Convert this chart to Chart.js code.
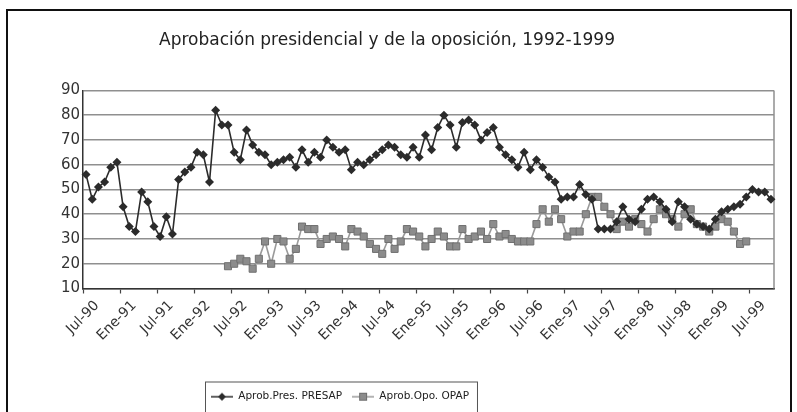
<!DOCTYPE html>
<html>
<head>
<meta charset="utf-8">
<script src="https://cdn.jsdelivr.net/npm/chart.js@4.4.1/dist/chart.umd.min.js"></script>
<style>
  html, body { margin: 0; padding: 0; background: #fff; }
  #wrap { position: relative; width: 797px; height: 412px; overflow: hidden; }
  #frame { position: absolute; left: 6px; top: 9px; width: 786px; height: 430px; border: 2px solid #111; box-sizing: border-box; }
  canvas { position: absolute; left: 0; top: 0; }
</style>
</head>
<body>
<div id="wrap">
  <div id="frame"></div>
  <canvas id="chart" width="797" height="412"></canvas>
</div>
<script>
// ---- datos ----
const MESES = ["Ene", "Feb", "Mar", "Abr", "May", "Jun", "Jul", "Ago", "Sep", "Oct", "Nov", "Dic"];
const INICIO = { anio: 1990, mes: 6 };   // Jul-90
const N_MESES = 112;                      // Jul-90 .. Oct-99

// Aprob.Pres. PRESAP (mensual)
const presap = [
  56, 46, 51, 53, 59, 61,                          // 1990 jul-dic
  43, 35, 33, 49, 45, 35, 31, 39, 32, 54, 57, 59,  // 1991
  65, 64, 53, 82, 76, 76, 65, 62, 74, 68, 65, 64,  // 1992
  60, 61, 62, 63, 59, 66, 61, 65, 63, 70, 67, 65,  // 1993
  66, 58, 61, 60, 62, 64, 66, 68, 67, 64, 63, 67,  // 1994
  63, 72, 66, 75, 80, 76, 67, 77, 78, 76, 70, 73,  // 1995
  75, 67, 64, 62, 59, 65, 58, 62, 59, 55, 53, 46,  // 1996
  47, 47, 52, 48, 46, 34, 34, 34, 37, 43, 38, 37,  // 1997
  42, 46, 47, 45, 42, 37, 45, 43, 38, 36, 35, 34,  // 1998
  38, 41, 42, 43, 44, 47, 50, 49, 49, 46           // 1999 ene-oct
];

// Aprob.Opo. OPAP (empieza jun-92, termina jun-99)
const opap = [
  null, null, null, null, null, null,
  null, null, null, null, null, null, null, null, null, null, null, null,
  null, null, null, null, null, 19, 20, 22, 21, 18, 22, 29,
  20, 30, 29, 22, 26, 35, 34, 34, 28, 30, 31, 30,
  27, 34, 33, 31, 28, 26, 24, 30, 26, 29, 34, 33,
  31, 27, 30, 33, 31, 27, 27, 34, 30, 31, 33, 30,
  36, 31, 32, 30, 29, 29, 29, 36, 42, 37, 42, 38,
  31, 33, 33, 40, 47, 47, 43, 40, 34, 37, 35, 38,
  36, 33, 38, 42, 40, 38, 35, 40, 42, 36, 35, 33,
  35, 38, 37, 33, 28, 29, null, null, null, null
];

const labels = [];
for (let i = 0; i < N_MESES; i++) {
  const m = (INICIO.mes + i) % 12;
  const a = INICIO.anio + Math.floor((INICIO.mes + i) / 12);
  labels.push(MESES[m] + "-" + String(a).slice(2));
}

// ---- estilos ----
const FONT = "'DejaVu Sans', Verdana, sans-serif";
const C_PRES = "#2b2b2b";
const C_OPO = "#8c8c8c";
const C_OPO_LINE = "#9a9a9a";
const LEG_LEFT = 205;

// marcador de leyenda: línea con símbolo al centro
function claveLeyenda(tipo) {
  const c = document.createElement("canvas");
  c.width = 22; c.height = 12;
  const g = c.getContext("2d");
  g.strokeStyle = tipo === "diamante" ? C_PRES : C_OPO_LINE;
  g.lineWidth = 1.5;
  g.beginPath(); g.moveTo(0, 6); g.lineTo(22, 6); g.stroke();
  if (tipo === "diamante") {
    g.fillStyle = C_PRES;
    g.beginPath(); g.moveTo(11, 2); g.lineTo(15, 6); g.lineTo(11, 10); g.lineTo(7, 6); g.closePath(); g.fill();
  } else {
    g.fillStyle = C_OPO; g.strokeStyle = "#6e6e6e"; g.lineWidth = 1;
    g.fillRect(7.5, 2.5, 7, 7); g.strokeRect(7.5, 2.5, 7, 7);
  }
  return c;
}

const marcoPlot = {
  id: "marcoPlot",
  beforeDatasetsDraw(chart) {
    const { ctx, chartArea: a } = chart;
    ctx.save();
    ctx.strokeStyle = "#8f8f8f";
    ctx.lineWidth = 1.5;
    ctx.beginPath(); ctx.moveTo(a.right, a.top); ctx.lineTo(a.right, a.bottom); ctx.stroke();
    ctx.restore();
  }
};

// leyenda desplazada a la izquierda, con recuadro
const cajaLeyenda = {
  id: "cajaLeyenda",
  beforeDraw(chart) {
    const lg = chart.legend;
    lg.left = LEG_LEFT - 4; lg.right = 797; lg.width = 797 - lg.left;
  },
  afterDraw(chart) {
    const { ctx } = chart;
    const lg = chart.legend;
    const ancho = (lg.lineWidths ? lg.lineWidths[0] : 230) + 4;
    ctx.save();
    ctx.strokeStyle = "#555";
    ctx.lineWidth = 1;
    ctx.strokeRect(LEG_LEFT + 0.5, lg.top + 0.5, ancho, 40);
    ctx.restore();
  }
};

new Chart(document.getElementById("chart"), {
  type: "line",
  data: {
    labels: labels,
    datasets: [
      {
        label: "Aprob.Pres. PRESAP",
        data: presap,
        borderColor: C_PRES,
        backgroundColor: C_PRES,
        borderWidth: 1.6,
        pointStyle: "rectRot",
        pointRadius: 4.5,
        pointBorderWidth: 0,
        tension: 0
      },
      {
        label: "Aprob.Opo. OPAP",
        data: opap,
        borderColor: C_OPO_LINE,
        backgroundColor: C_OPO,
        pointBorderColor: "#707070",
        borderWidth: 1.6,
        pointStyle: "rect",
        pointRadius: 5,
        pointBorderWidth: 1,
        spanGaps: false,
        tension: 0
      }
    ]
  },
  options: {
    responsive: false,
    animation: false,
    layout: { padding: { left: 0, right: 23, top: 0, bottom: 0 } },
    plugins: {
      title: {
        display: true,
        text: "Aprobación presidencial y de la oposición, 1992-1999",
        color: "#222",
        font: { family: FONT, size: 17, weight: "normal" },
        padding: { top: 30, bottom: 40 }
      },
      legend: {
        position: "bottom",
        align: "start",
        labels: {
          color: "#222",
          font: { family: FONT, size: 10.5 },
          usePointStyle: true,
          pointStyleWidth: 22,
          boxHeight: 12,
          padding: 10,
          generateLabels: (chart) => [
            { text: "Aprob.Pres. PRESAP", pointStyle: claveLeyenda("diamante"), fontColor: "#222", lineWidth: 0, strokeStyle: "transparent", fillStyle: "transparent", datasetIndex: 0 },
            { text: "Aprob.Opo. OPAP", pointStyle: claveLeyenda("cuadrado"), fontColor: "#222", lineWidth: 0, strokeStyle: "transparent", fillStyle: "transparent", datasetIndex: 1 }
          ]
        }
      },
      tooltip: { enabled: false }
    },
    scales: {
      x: {
        type: "category",
        offset: true,
        grid: {
          offset: true,
          drawOnChartArea: false,
          tickLength: 5,
          tickWidth: 1.2,
          tickColor: (ctx) => (ctx.index !== undefined && ctx.index % 6 === 0 ? "#444" : "rgba(0,0,0,0)")
        },
        border: { color: "#333", width: 1.5 },
        ticks: {
          autoSkip: false,
          minRotation: 45,
          maxRotation: 45,
          color: "#333",
          padding: 4,
          labelOffset: 11,
          font: { family: FONT, size: 14 },
          callback: function (v, i) { return i % 6 === 0 ? this.getLabelForValue(v) : ""; }
        },
        afterFit: (s) => { s.height = 93; }
      },
      y: {
        min: 10,
        max: 90,
        ticks: { stepSize: 10, color: "#333", padding: 3, font: { family: FONT, size: 15 } },
        grid: { color: "#8f8f8f", lineWidth: 1.5, drawTicks: false },
        border: { color: "#333", width: 1.5 },
        afterFit: (s) => { s.width = 83; }
      }
    }
  },
  plugins: [marcoPlot, cajaLeyenda]
});
</script>
</body>
</html>
